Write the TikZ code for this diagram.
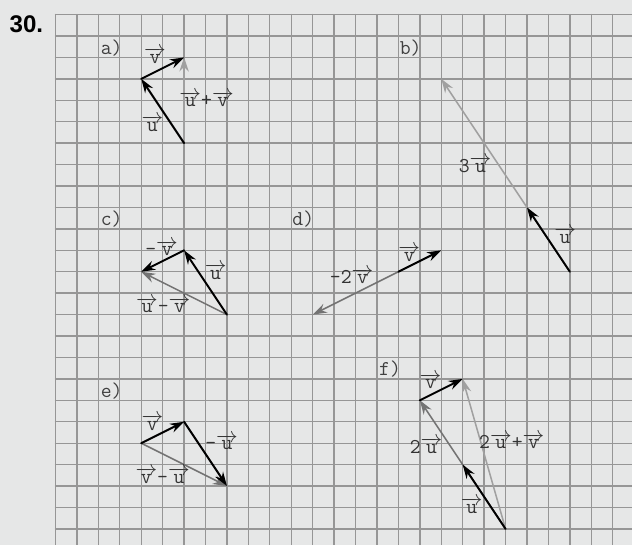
\documentclass[tikz,border=0pt]{standalone}
\usepackage{fontspec}
\setmainfont{Liberation Sans}
\usetikzlibrary{arrows.meta}
\definecolor{paper}{RGB}{230,231,231}
\definecolor{gridc}{RGB}{150,150,150}
\definecolor{darkres}{RGB}{115,115,115}
\definecolor{lightres}{RGB}{160,160,160}
\newcommand{\arr}[1]{$\overrightarrow{\mbox{\ttfamily #1}}$}
\tikzset{
  vec/.style={line width=1.3pt,-{Stealth[length=3.3mm,width=2.2mm,inset=1.1mm]}},
  darkvec/.style={vec,line width=1pt,darkres},
  lightvec/.style={vec,line width=1pt,lightres},
  lbl/.style={font=\fontsize{14}{14}\selectfont\ttfamily,text=black!80,inner sep=1pt},
  part/.style={font=\fontsize{14}{14}\selectfont\ttfamily,text=black!75}
}
\begin{document}
\begin{tikzpicture}[x=0.5cm,y=0.5cm,line cap=round,line join=round]
  \useasboundingbox[fill=paper] (-2.59,0.68) rectangle (26.90,-24.75);
  \draw[gridc,line width=0.9pt,step=0.5cm] (0,-24.75) grid (26.90,0);
  \node[font=\fontsize{16}{16}\selectfont\bfseries] (num) at (-1.36,-0.44) {30.};
  % a)
  \coordinate (A0) at (6,-6);
  \coordinate (A1) at (4,-3);
  \coordinate (A2) at (6,-2);
  \draw[lightvec] (A0) -- (A2);
  \draw[vec] (A0) -- (A1);
  \draw[vec] (A1) -- (A2);
  \node[part] (pa) at (2.62,-1.57) {a)};
  \node[lbl] (av) at (4.64,-1.9) {\arr{v}};
  \node[lbl] (au) at (4.52,-5.1) {\arr{u}};
  \node[lbl] (auv) at (7.05,-3.95) {\arr{u}+\arr{v}};
  % b)
  \coordinate (B0) at (24,-12);
  \coordinate (B1) at (22,-9);
  \coordinate (B3) at (18,-3);
  \draw[lightvec] (B0) -- (B3);
  \draw[vec] (B0) -- (B1);
  \node[part] (pb) at (16.57,-1.54) {b)};
  \node[lbl] (b3u) at (19.58,-7.0) {3\arr{u}};
  \node[lbl] (bu) at (23.78,-10.3) {\arr{u}};
  % c)
  \coordinate (C0) at (8,-14);
  \coordinate (C1) at (6,-11);
  \coordinate (C2) at (4,-12);
  \draw[darkvec] (C0) -- (C2);
  \draw[vec] (C0) -- (C1);
  \draw[vec] (C1) -- (C2);
  \node[part] (pc) at (2.62,-9.54) {c)};
  \node[lbl] (cv) at (4.95,-10.9) {-\arr{v}};
  \node[lbl] (cu) at (7.47,-12.0) {\arr{u}};
  \node[lbl] (cuv) at (5.03,-13.55) {\arr{u}-\arr{v}};
  % d)
  \coordinate (D0) at (16,-12);
  \coordinate (D1) at (18,-11);
  \coordinate (D2) at (12,-14);
  \draw[darkvec] (D0) -- (D2);
  \draw[vec] (D0) -- (D1);
  \node[part] (pd) at (11.56,-9.54) {d)};
  \node[lbl] (dv) at (16.51,-11.15) {\arr{v}};
  \node[lbl] (d2v) at (13.82,-12.2) {-2\arr{v}};
  % e)
  \coordinate (E0) at (4,-20);
  \coordinate (E1) at (6,-19);
  \coordinate (E2) at (8,-22);
  \draw[darkvec] (E0) -- (E2);
  \draw[vec] (E0) -- (E1);
  \draw[vec] (E1) -- (E2);
  \node[part] (pe) at (2.62,-17.55) {e)};
  \node[lbl] (ev) at (4.52,-19.05) {\arr{v}};
  \node[lbl] (eu) at (7.75,-19.95) {-\arr{u}};
  \node[lbl] (evu) at (5.0,-21.5) {\arr{v}-\arr{u}};
  % f)
  \coordinate (F0) at (21,-24);
  \coordinate (F1) at (19,-21);
  \coordinate (F2) at (17,-18);
  \coordinate (F3) at (19,-17);
  \draw[lightvec] (F0) -- (F3);
  \draw[darkvec] (F0) -- (F2);
  \draw[vec] (F0) -- (F1);
  \draw[vec] (F2) -- (F3);
  \node[part] (pf) at (15.61,-16.54) {f)};
  \node[lbl] (fv) at (17.5,-17.1) {\arr{v}};
  \node[lbl] (f2u) at (17.29,-20.1) {2\arr{u}};
  \node[lbl] (f2uv) at (21.29,-19.9) {2\arr{u}+\arr{v}};
  \node[lbl] (fu) at (19.42,-22.9) {\arr{u}};
\end{tikzpicture}
\end{document}
